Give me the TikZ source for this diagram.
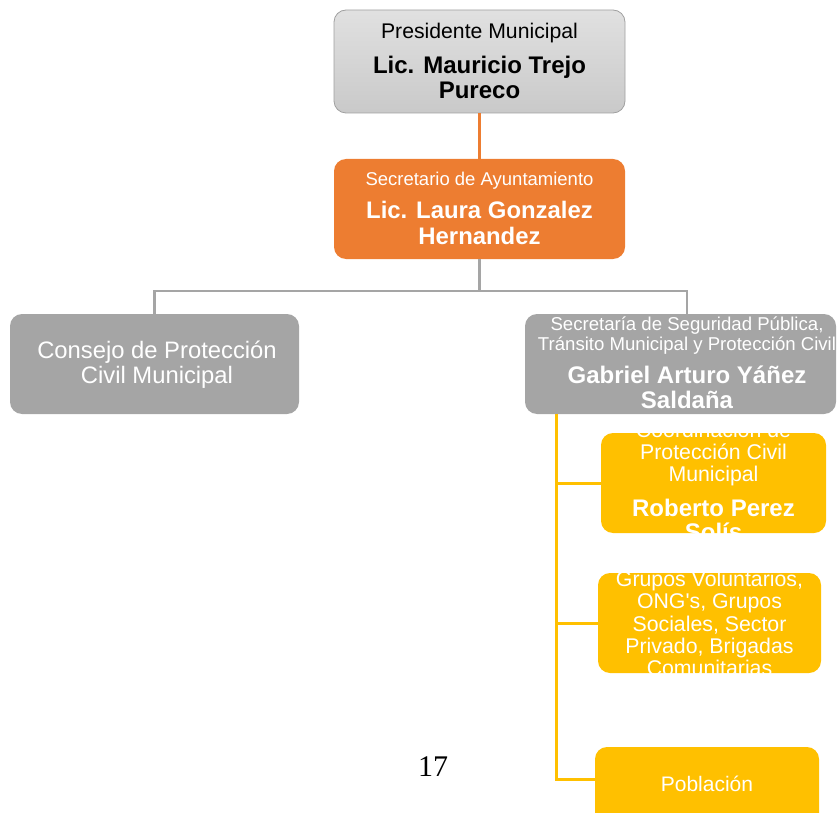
\documentclass[tikz,border=0pt]{standalone}
\usepackage{fontspec}
\setmainfont{Liberation Sans}
\newfontfamily\serifnum{Liberation Serif}
\definecolor{orgc}{HTML}{ED7D31}
\definecolor{grayc}{HTML}{A5A5A5}
\definecolor{ylwc}{HTML}{FFC000}
\definecolor{bordc}{HTML}{A0A0A0}
\begin{document}
\begin{tikzpicture}[x=1pt,y=-1pt,
  box/.style={rectangle,rounded corners=12pt,inner sep=0pt,draw=none},
  txt/.style={inner sep=0pt,align=center,text=white},
  gline/.style={draw=grayc,line width=2.5pt},
  oline/.style={draw=orgc,line width=2.5pt},
  yline/.style={draw=ylwc,line width=3pt}]
\useasboundingbox (0,0) rectangle (838,813);
% boxes
\node[box,minimum width=291pt,minimum height=103pt,draw=bordc,line width=0.8pt,top color=gray!24,bottom color=gray!42] (pres) at (479.5,61.5) {};
\node[box,fill=orgc,minimum width=291pt,minimum height=100pt] (sec) at (479.5,209) {};
\node[box,fill=grayc,minimum width=289pt,minimum height=100pt] (cons) at (154.5,364) {};
\node[box,fill=grayc,minimum width=311pt,minimum height=100pt] (ssp) at (680.5,364) {};
\node[box,fill=ylwc,minimum width=225pt,minimum height=100pt] (coord) at (713.5,483) {};
\node[box,fill=ylwc,minimum width=223pt,minimum height=100pt] (grupos) at (709.5,623) {};
\node[box,fill=ylwc,minimum width=224pt,minimum height=84pt] (pob) at (707,789) {};
% connectors
\draw[oline] (pres.south) -- (sec.north);
\coordinate (sspTop) at (687,314);
\draw[gline] (sec.south) -- ++(0,32) -| (cons.north);
\draw[gline] (sec.south) ++(0,32) -| (sspTop);
\coordinate (trunk) at (556,414);
\coordinate (pobin) at (595,779);
\draw[yline] (trunk) |- (coord.west);
\draw[yline] (trunk) |- (grupos.west);
\draw[yline] (trunk) |- (pobin);
% texts
\node[txt,text=black,font=\fontsize{21.2}{21}\selectfont] (t1) at (479.5,33) {Presidente Municipal};
\node[txt,text=black,font=\fontsize{24}{25}\selectfont\bfseries] (t2) at (479.5,77) {Lic. Mauricio Trejo\\Pureco};
\node[txt,font=\fontsize{18.5}{18}\selectfont] (t3) at (479.5,181) {Secretario de Ayuntamiento};
\node[txt,font=\fontsize{23.9}{26}\selectfont\bfseries] (t4) at (479.5,223) {Lic. Laura Gonzalez\\Hernandez};
\node[txt,font=\fontsize{23.8}{25}\selectfont] (t5) at (157,364.5) {Consejo de Protección\\Civil Municipal};
\node[txt,font=\fontsize{18.6}{19.5}\selectfont] (t6) at (687,335.5) {Secretaría de Seguridad Pública,\\Tránsito Municipal y Protección Civil};
\node[txt,font=\fontsize{24}{25}\selectfont\bfseries] (t7) at (687,387.5) {Gabriel Arturo Yáñez\\Saldaña};
\begin{scope}
\clip[rounded corners=12pt] (coord.south west) rectangle (coord.north east);
\node[txt,font=\fontsize{21.3}{22}\selectfont] (t8) at (713.5,454) {Coordinación de\\Protección Civil\\Municipal};
\node[txt,font=\fontsize{24}{24}\selectfont\bfseries] (t9) at (713.5,520) {Roberto Perez\\Solís};
\end{scope}
\begin{scope}
\clip[rounded corners=12pt] (grupos.south west) rectangle (grupos.north east);
\node[txt,font=\fontsize{21.3}{22.3}\selectfont] (t10) at (709.5,623.5) {Grupos Voluntarios,\\ONG\textquotesingle s, Grupos\\Sociales, Sector\\Privado, Brigadas\\Comunitarias};
\end{scope}
\node[txt,font=\fontsize{21}{21}\selectfont] (t11) at (707,784) {Población};
\node[inner sep=0pt,font=\serifnum\fontsize{30}{30}\selectfont] (pg) at (433,767) {17};
\end{tikzpicture}
\end{document}
